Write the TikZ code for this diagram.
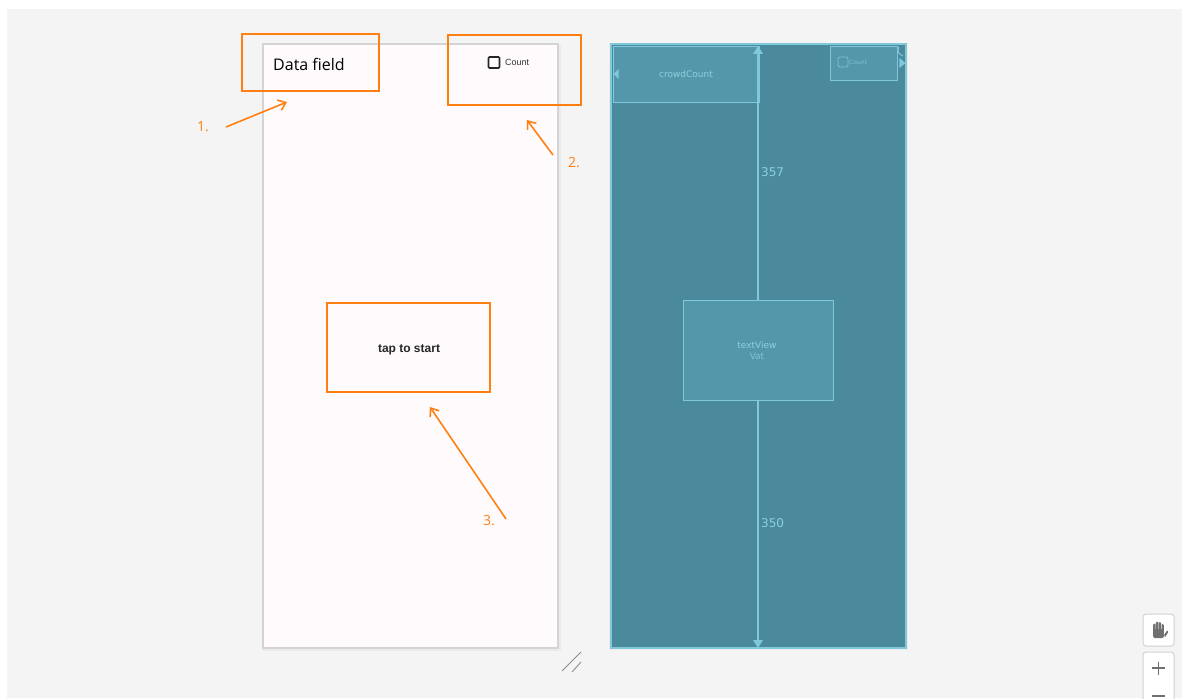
\documentclass[tikz,border=0pt]{standalone}
\usepackage{fontspec}
\setmainfont{Open Sans}
\newfontfamily\uifont{Liberation Sans}
\newfontfamily\bpfont{DejaVu Sans}
\usetikzlibrary{arrows.meta}
\definecolor{canvas}{HTML}{F4F4F4}
\definecolor{screen}{HTML}{FFFBFD}
\definecolor{screenedge}{HTML}{D4D4D4}
\definecolor{callout}{HTML}{FF7F12}
\definecolor{bpfill}{HTML}{4A8A9C}
\definecolor{bpbox}{HTML}{5597AA}
\definecolor{bpline}{HTML}{80C9DD}
\definecolor{bptext}{HTML}{8ECFE0}
\definecolor{toolgray}{HTML}{707070}
\tikzset{
  phone/.style={draw=screenedge, line width=1.6pt, fill=screen, inner sep=0pt},
  blueprint/.style={draw=bpline, line width=1.4pt, fill=bpfill, inner sep=0pt},
  bpview/.style={draw=bpline, line width=0.9pt, fill=bpbox, inner sep=0pt},
  highlight/.style={draw=callout, line width=2pt, inner sep=0pt},
  calloutarrow/.style={draw=callout, line width=1.6pt, -{Straight Barb[length=7pt,width=11pt,line width=1.6pt]}},
  stepnum/.style={text=callout, font=\fontsize{14}{16}\selectfont, inner sep=0pt},
  bplabel/.style={text=bptext, font=\bpfont\fontsize{9}{10}\selectfont, inner sep=0pt},
  toolbtn/.style={draw=black!18, line width=1pt, fill=white, rounded corners=3pt, inner sep=0pt},
}
\begin{document}
\begin{tikzpicture}[x=1pt,y=-1pt]
\useasboundingbox (0,0) rectangle (1182,698);
\fill[white] (0,0) rectangle (1182,698);
\fill[canvas] (7,9) rectangle (1182,698);

% design surface
\fill[black!8] (262,45) rectangle (561,651);
\node[phone, minimum width=295pt, minimum height=604pt] (phone) at (410.5,346) {};
\node[font=\fontsize{16}{18}\selectfont, anchor=west, inner sep=0pt] (datafield) at (273,64) {Data field};
\node[draw=black!85, line width=1.6pt, rounded corners=1pt, minimum size=11pt, inner sep=0pt] (chk) at (494,62.5) {};
\node[font=\uifont\fontsize{9}{10}\selectfont, text=black!80, anchor=west, inner sep=0pt] (count) at (505,62.5) {Count};
\node[font=\uifont\bfseries\fontsize{12}{14}\selectfont, text=black!85, inner sep=0pt] (tap) at (409,350) {tap to start};

% callout boxes
\node[highlight, minimum width=137pt, minimum height=57pt] (hl1) at (310.5,62.5) {};
\node[highlight, minimum width=133pt, minimum height=70pt] (hl2) at (514.5,70) {};
\node[highlight, minimum width=163pt, minimum height=89pt] (hl3) at (408.5,347.5) {};

% numbered callouts
\node[stepnum] (n1) at (203,127) {1.};
\node[stepnum] (n2) at (574,163) {2.};
\node[stepnum] (n3) at (489,521) {3.};
\coordinate (s1) at (226,127);
\coordinate (e1) at (287,102);
\coordinate (s2) at (553,155);
\coordinate (e2) at (527,120);
\coordinate (s3) at (506,519);
\coordinate (e3) at (430,407);
\draw[calloutarrow] (s1) -- (e1);
\draw[calloutarrow] (s2) -- (e2);
\draw[calloutarrow] (s3) -- (e3);

% resize grip
\draw[toolgray!80, line width=0.9pt] (562,671) -- (581,652);
\draw[toolgray!80, line width=0.9pt] (572,672) -- (581,662);

% blueprint surface
\fill[black!8] (609,43) rectangle (908,650);
\node[blueprint, minimum width=295pt, minimum height=604pt] (bp) at (758.5,346) {};
\node[bpview, minimum width=146pt, minimum height=56pt] (crowd) at (686,74) {};
\node[bplabel] at (crowd.center) {crowdCount};
\node[bpview, minimum width=67pt, minimum height=34pt] (bpcount) at (863.5,63) {};
\node[draw=bptext!70!bpbox, line width=0.8pt, rounded corners=2pt, minimum size=10pt, inner sep=0pt] (bpchk) at (843,62) {};
\node[text=bptext!70!bpbox, font=\bpfont\fontsize{6}{7}\selectfont, anchor=west, inner sep=0pt] at (849,62) {Count};
\node[bpview, minimum width=150pt, minimum height=100pt] (tv) at (758,350) {};
\node[bplabel] at (757,345) {textView};
\node[bplabel, opacity=0.8] at (757,356) {Vat};

% vertical constraints
\coordinate (top) at (758,46);
\coordinate (bot) at (758,648);
\draw[bpline, line width=1.2pt] (tv.north) -- (top);
\draw[bpline, line width=1.2pt] (tv.south) -- (bot);
\fill[bpline] (top) -- ++(-5,8) -- ++(10,0) -- cycle;
\fill[bpline] (bot) -- ++(-5,-8) -- ++(10,0) -- cycle;
\node[bplabel, font=\bpfont\fontsize{12}{13}\selectfont, anchor=west] (d1) at (761,172) {357};
\node[bplabel, font=\bpfont\fontsize{12}{13}\selectfont, anchor=west] (d2) at (761,523) {350};

% horizontal constraint handles
\fill[bpline] (crowd.west) ++(1,0) -- ++(5,-5) -- ++(0,10) -- cycle;
\fill[bpline] (bpcount.east) ++(2,-5) -- ++(6,5) -- ++(-6,5) -- cycle;
\draw[bpline, line width=1pt] (899,47) .. controls (897,51) and (898,54) .. (903,56);

% view tools
\node[toolbtn, minimum width=31pt, minimum height=32pt] (hand) at (1158.5,630) {};
% pan hand glyph: four fingers, thumb and palm
\begin{scope}[fill=toolgray, shift={(hand.center)}]
  \foreach \fx/\ftop in {-4.2/-6.5, -1.4/-8.5, 1.4/-8, 4.2/-6} {
    \fill[rounded corners=1.2pt] (\fx-1.2,\ftop) rectangle (\fx+1.2,2);
  }
  \fill[rounded corners=2pt] (-5.4,-1) rectangle (5.4,8);
  \fill[rounded corners=1pt] (5.4,5) -- (9,0) -- (10,1.5) -- (6.5,7.5) -- cycle;
\end{scope}
\node[toolbtn, minimum width=31pt, minimum height=60pt] (zoom) at (1158.5,682) {};
\draw[toolgray, line width=1.6pt] (1152,668) -- (1165,668) (1158.5,661.5) -- (1158.5,674.5);
\draw[toolgray, line width=1.6pt] (1152,696) -- (1165,696);
\end{tikzpicture}
\end{document}
